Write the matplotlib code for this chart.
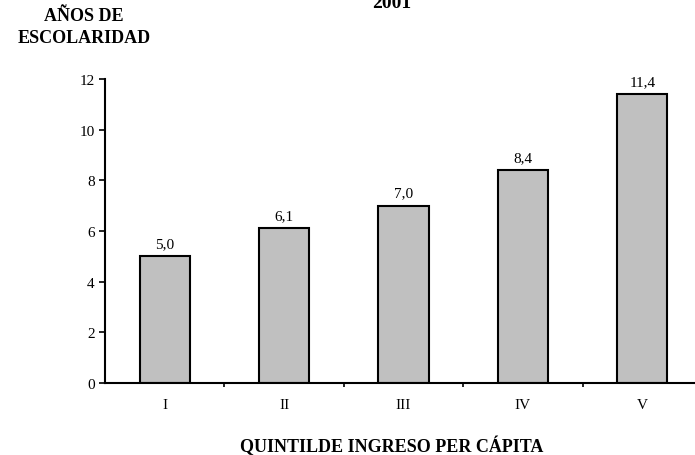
import matplotlib.pyplot as plt
import numpy as np

plt.rcParams['font.family'] = ['Liberation Serif', 'DejaVu Serif']

quintiles = ['I', 'II', 'III', 'IV', 'V']
years = [5.0, 6.1, 7.0, 8.4, 11.4]
value_labels = ['5,0', '6,1', '7,0', '8,4', '11,4']

fig = plt.figure(figsize=(6.95, 4.56), dpi=100)
ax = fig.add_axes([105 / 695, 1 - 384 / 456, 597 / 695, 304 / 456])

x = np.arange(len(quintiles))
ax.bar(x, years, width=0.42, color='#C0C0C0', edgecolor='black', linewidth=1.5)
for xi, v, lab in zip(x, years, value_labels):
    ax.annotate(lab, (xi, v), xytext=(0, 4.5), textcoords='offset points',
                ha='center', va='bottom', fontsize=11)

ax.set_xlim(-0.5, 4.5)
ax.set_ylim(0, 12)
ax.set_yticks(range(0, 13, 2))
ax.set_xticks(np.arange(0.5, 4.5, 1))
ax.set_xticklabels([])
ax.set_xticks(x, minor=True)
ax.set_xticklabels(quintiles, minor=True)
ax.tick_params(axis='x', which='minor', length=0, pad=11, labelsize=11)
ax.tick_params(axis='x', which='major', length=3, width=1.2, direction='out')
ax.tick_params(axis='y', length=4, width=1.2, direction='out', labelsize=11)
for s in ['top', 'right']:
    ax.spines[s].set_visible(False)
ax.spines['left'].set_linewidth(1.5)
ax.spines['bottom'].set_linewidth(1.5)

fig.text(84 / 695, 1 - 27.5 / 456, 'AÑOS DE\nESCOLARIDAD', ha='center', va='center',
         fontsize=13, fontweight='bold', linespacing=1.4)
fig.text(392 / 695, 1 - 3.5 / 456, '2001', ha='center', va='center',
         fontsize=14, fontweight='bold')
fig.text(392 / 695, 1 - 446 / 456, 'QUINTILDE INGRESO PER CÁPITA', ha='center',
         va='center', fontsize=13, fontweight='bold')

fig.savefig('out.png', dpi=100)
